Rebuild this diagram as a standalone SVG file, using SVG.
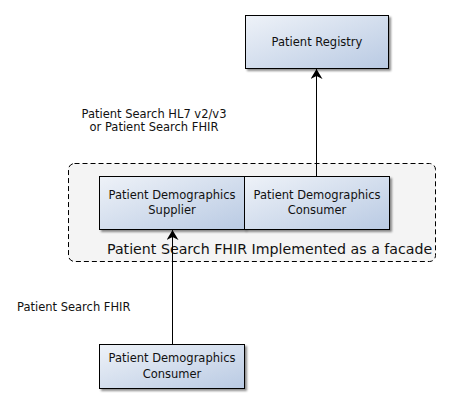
<svg xmlns="http://www.w3.org/2000/svg" width="450" height="403" viewBox="0 0 450 403">
<defs>
<linearGradient id="g" x1="0" y1="0" x2="1" y2="1">
<stop offset="0" stop-color="#eef2f8"/>
<stop offset="1" stop-color="#b9cae3"/>
</linearGradient>
<filter id="sh" x="-10%" y="-10%" width="130%" height="140%">
<feGaussianBlur in="SourceAlpha" stdDeviation="1.2"/>
<feOffset dx="2" dy="2" result="b"/>
<feComponentTransfer><feFuncA type="linear" slope="0.45"/></feComponentTransfer>
<feMerge><feMergeNode/><feMergeNode in="SourceGraphic"/></feMerge>
</filter>
<marker id="ah" viewBox="0 0 10 12" refX="10" refY="6" markerWidth="10" markerHeight="12" markerUnits="userSpaceOnUse" orient="auto">
<path d="M0,0 L10,6 L0,12 L3,6 Z" fill="#000"/>
</marker>
<style>
.box{fill:url(#g);stroke:#000;stroke-width:1;filter:url(#sh)}
.t{font-family:"DejaVu Sans","Noto Sans",sans-serif;font-size:11.5px;fill:#111;text-anchor:middle}
.l{font-family:"DejaVu Sans","Noto Sans",sans-serif;font-size:11.5px;fill:#111}
.c{fill:none;stroke:#000;stroke-width:1;marker-end:url(#ah)}
</style>
</defs>
<rect width="450" height="403" fill="#fff"/>
<g id="facade">
<rect x="68.5" y="163.5" width="367" height="98" rx="6" fill="#f4f4f4" stroke="#000" stroke-dasharray="5,3"/>
<text x="107" y="254" style="font-family:'DejaVu Sans','Noto Sans',sans-serif;font-size:14.2px;fill:#111">Patient Search FHIR Implemented as a facade</text>
</g>
<g id="registry">
<rect class="box" x="245.5" y="15.5" width="143" height="53"/>
<text class="t" x="317" y="46">Patient Registry</text>
</g>
<g id="supplier">
<rect class="box" x="99.5" y="176.5" width="145" height="53"/>
<text class="t" x="172" y="199">Patient Demographics</text>
<text class="t" x="172" y="214">Supplier</text>
</g>
<g id="consumer1">
<rect class="box" x="244.5" y="176.5" width="145" height="53"/>
<text class="t" x="317" y="199">Patient Demographics</text>
<text class="t" x="317" y="214">Consumer</text>
</g>
<g id="consumer2">
<rect class="box" x="99.5" y="344.5" width="145" height="44"/>
<text class="t" x="172" y="362">Patient Demographics</text>
<text class="t" x="172" y="378">Consumer</text>
</g>
<g id="labels">
<text class="t" x="154" y="118">Patient Search HL7 v2/v3</text>
<text class="t" x="154" y="131">or Patient Search FHIR</text>
<text class="l" x="17" y="311">Patient Search FHIR</text>
</g>
<g id="connectors">
<path class="c" d="M316.5,176 L316.5,69"/>
<path class="c" d="M172.5,344 L172.5,230"/>
</g>
</svg>
